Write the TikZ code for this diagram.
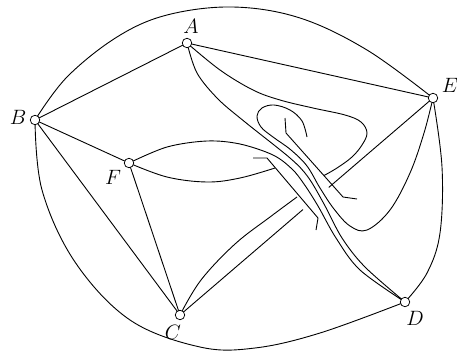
\documentclass[tikz,border=0pt]{standalone}
\usepackage{amsmath, amssymb}
\usepackage{tikz}
\usetikzlibrary{calc}

\begin{document}
\begin{tikzpicture}[x=1pt, y=-1pt, line width=0.9pt,
  vtx/.style={circle, draw, fill=white, line width=0.75pt, inner sep=0pt, minimum size=9.5pt},
  lbl/.style={font=\huge, inner sep=0pt}]
  \useasboundingbox (0,0) rectangle (457,351);
  \coordinate (A) at (187,43);
  \coordinate (B) at (35,120);
  \coordinate (C) at (180,315);
  \coordinate (D) at (405,302);
  \coordinate (E) at (433,98);
  \coordinate (F) at (129,163);
  % cut ends
  \coordinate (loopEnd) at (307,137);
  \coordinate (sEnd) at (324,175.5);
  \coordinate (cEnd) at (297,197);
  \coordinate (fEnd) at (275,168);
  \coordinate (ceLow) at ($(C)!0.486!(E)$);
  \coordinate (ceUp) at ($(C)!0.588!(E)$);
  \coordinate (stubA) at (285,118);
  \coordinate (stubB) at (286,133);
  \coordinate (stubC) at (343,197);
  \coordinate (stubD) at (357,199);
  \coordinate (tA) at (253,158);
  \coordinate (tB) at (267,158);
  \coordinate (tC) at (318,218);
  \coordinate (tD) at (316,230);
  % straight edges
  \draw (A) -- (B);
  \draw (A) -- (E);
  \draw (B) -- (F);
  \draw (B) -- (C);
  \draw (F) -- (C);
  \draw (C) -- (ceLow);
  \draw (ceUp) -- (E);
  % outer curves
  \draw plot[smooth, tension=0.6] coordinates {(B) (67,77) (117,37) (167,15) (233,7) (300,18) (367,50) (E)};
  \draw plot[smooth, tension=0.6] coordinates {(B) (42,190) (75,262) (130,320) (200,347) (255,348) (320,333) (D)};
  \draw plot[smooth, tension=0.6] coordinates {(E) (442,167) (440,233) (427,273) (D)};
  % the band
  \draw plot[smooth, tension=0.55] coordinates {(A) (197,73) (218,99) (245,122) (290,158) (308,177) (324,204) (342,238) (365,267) (D)};
  \draw plot[smooth, tension=0.55] coordinates {(F) (167,147) (207,141) (240,144) (273,155) (292,169) (304,184) (318,206) (336,238) (360,270) (D)};
  \draw plot[smooth, tension=0.6] coordinates {(E) (424,133) (410,173) (390,210) (367,230) (350,226) (334,209) (320,188) (307,166) (291,150) (273,137) (261,127) (257,116) (262,108) (274,105) (290,110) (302,121) (loopEnd)};
  \draw plot[smooth, tension=0.6] coordinates {(A) (220,70) (253,90) (280,100) (313,108) (345,115) (361,122) (367,133) (362,145) (352,157) (337,168) (sEnd)};
  \draw plot[smooth, tension=0.6] coordinates {(C) (201,280) (235,244) (270,217) (cEnd)};
  \draw plot[smooth, tension=0.6] coordinates {(F) (167,177) (207,182) (240,178) (fEnd)};
  \draw (stubA) -- (stubB) -- (stubC) -- (stubD);
  \draw (tA) -- (tB) -- (tC) -- (tD);
  % vertices
  \node[vtx] (vA) at (A) {};
  \node[vtx] (vB) at (B) {};
  \node[vtx] (vC) at (C) {};
  \node[vtx] (vD) at (D) {};
  \node[vtx] (vE) at (E) {};
  \node[vtx] (vF) at (F) {};
  \node[lbl] (labA) at (191,26) {$A$};
  \node[lbl] (labB) at (18,117) {$B$};
  \node[lbl] (labC) at (173,332) {$C$};
  \node[lbl] (labD) at (415,318) {$D$};
  \node[lbl] (labE) at (450,85) {$E$};
  \node[lbl] (labF) at (113,177) {$F$};
\end{tikzpicture}
\end{document}
